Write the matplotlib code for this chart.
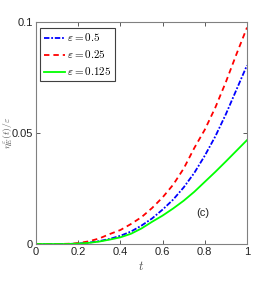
import matplotlib
matplotlib.use("Agg")
import matplotlib.pyplot as plt
from matplotlib.ticker import FixedLocator, FixedFormatter

plt.rcParams['mathtext.fontset'] = 'cm'
plt.rcParams['font.family'] = ['Liberation Sans', 'DejaVu Sans']

t = [0.0, 0.05, 0.1, 0.15, 0.2, 0.25, 0.3, 0.35, 0.4, 0.45, 0.5,
     0.55, 0.6, 0.65, 0.7, 0.75, 0.8, 0.85, 0.9, 0.95, 1.0]
eta_05 = [0.0, 0.0, 0.0, 0.0, 0.0002, 0.0006, 0.0013, 0.0023, 0.0037, 0.0056, 0.0083,
          0.0115, 0.0155, 0.0200, 0.0255, 0.0320, 0.0398, 0.0485, 0.0585, 0.0695, 0.0805]
eta_025 = [0.0, 0.0, 0.0, 0.0001, 0.0004, 0.0012, 0.0025, 0.0045, 0.0063, 0.0090, 0.0121,
           0.0162, 0.0210, 0.0267, 0.0340, 0.0432, 0.0515, 0.0615, 0.0730, 0.0855, 0.0975]
eta_0125 = [0.0, 0.0, 0.0, 0.0, 0.0002, 0.0005, 0.0011, 0.0020, 0.0030, 0.0046, 0.0070,
            0.0100, 0.0128, 0.0160, 0.0195, 0.0235, 0.0280, 0.0325, 0.0372, 0.0420, 0.0468]
labels = [r'$\varepsilon = 0.5$', r'$\varepsilon = 0.25$', r'$\varepsilon = 0.125$']
xticks = [0, 0.2, 0.4, 0.6, 0.8, 1]
xticklabels = ['0', '0.2', '0.4', '0.6', '0.8', '1']
yticks = [0, 0.05, 0.1]
yticklabels = ['0', '0.05', '0.1']

fig = plt.figure(figsize=(2.73, 2.84), dpi=100)
ax = fig.add_axes([36/273, 40/284, 211/273, 222/284])

ax.plot(t, eta_05, color='#0000ff', linestyle=(0, (3, 1, 1, 1)), lw=1.3, label=labels[0])
ax.plot(t, eta_025, color='#ff0000', linestyle=(0, (3, 2.2)), lw=1.3, label=labels[1])
ax.plot(t, eta_0125, color='#00ff00', linestyle='-', lw=1.3, label=labels[2])

ax.set_xlim(0, 1)
ax.set_ylim(0, 0.1)
ax.xaxis.set_major_locator(FixedLocator(xticks))
ax.xaxis.set_major_formatter(FixedFormatter(xticklabels))
ax.yaxis.set_major_locator(FixedLocator(yticks))
ax.yaxis.set_major_formatter(FixedFormatter(yticklabels))
ax.tick_params(direction='in', top=True, right=True, length=3, width=0.6,
               labelsize=8, colors='#404040', labelcolor='#222222', pad=2)
for s in ax.spines.values():
    s.set_color('#808080')
    s.set_linewidth(0.8)

ax.set_xlabel(r'$t$', fontsize=9, color='#555555', labelpad=2)
ax.set_ylabel(r'$\eta^{\varepsilon}_{E}(t)/\varepsilon$', fontsize=7, color='#555555')
ax.yaxis.set_label_coords(-0.105, 0.5)

leg = ax.legend(loc='upper left', bbox_to_anchor=(0.02, 0.975), fontsize=8,
                frameon=True, fancybox=False, edgecolor='#404040', framealpha=1,
                handlelength=1.9, handletextpad=0.15, borderpad=0.35, labelspacing=0.45,
                borderaxespad=0.0)
leg.get_frame().set_linewidth(0.8)

ax.text(0.79, 0.014, '(c)', fontsize=8, color='#222222', ha='center', va='center')

fig.savefig('out.png', dpi=100)
